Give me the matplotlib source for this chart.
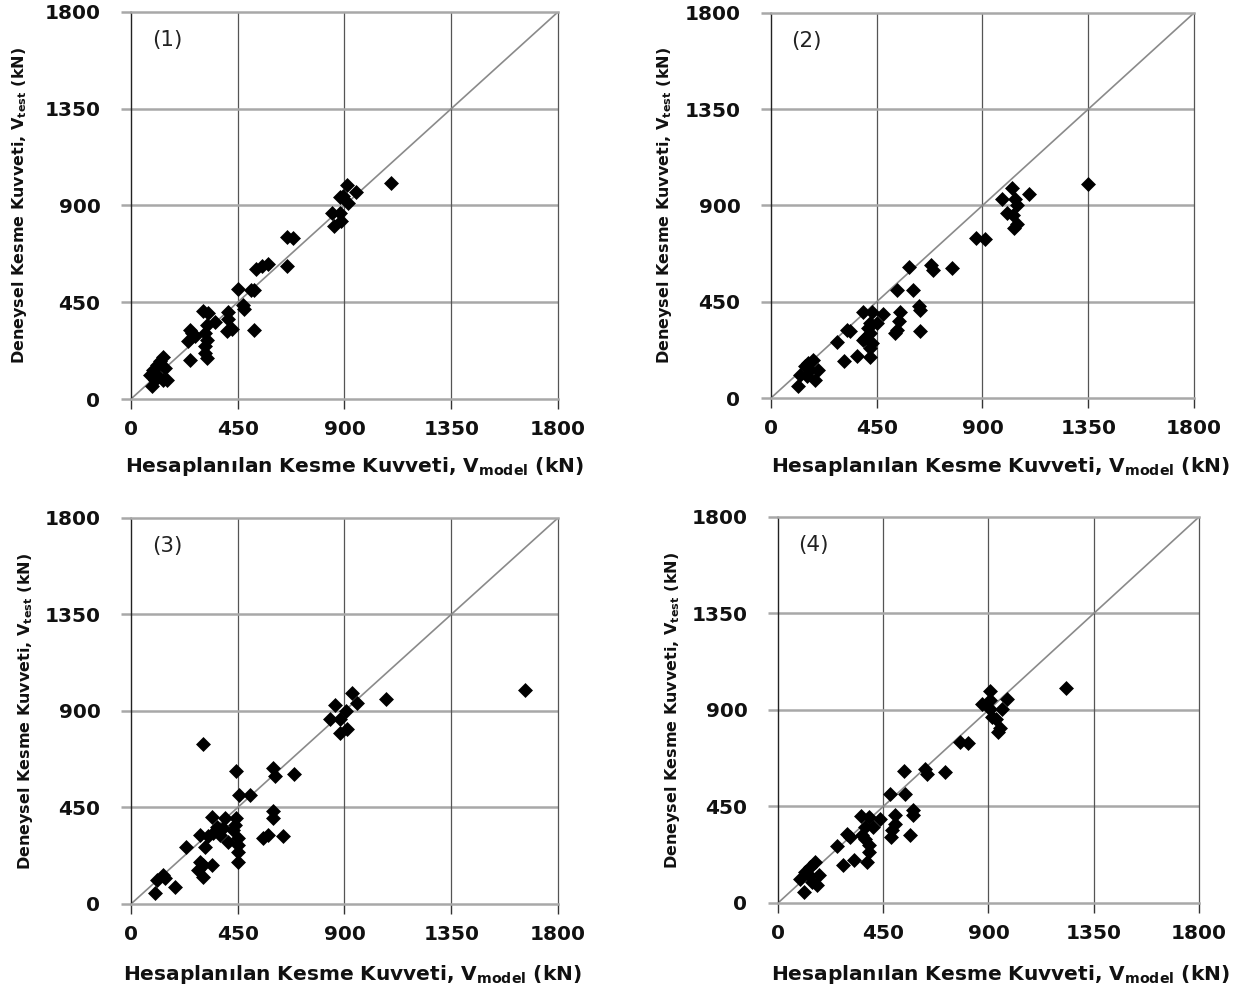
import matplotlib
matplotlib.use("Agg")
import matplotlib.pyplot as plt

# Panel (1)
p1_x = [1095, 911, 948, 880, 895, 915, 849, 880, 855, 887, 656, 684, 656, 527, 551, 579,
        452, 508, 518, 473, 477, 518, 410, 410, 403, 424, 305, 326, 354, 319, 312, 319, 312,
        319, 312, 249, 256, 270, 242, 249, 136, 122, 108, 94, 143, 80, 115, 136, 87, 150, 101]
p1_y = [1005, 994, 961, 939, 945, 911, 865, 865, 803, 826, 753, 750, 617, 605, 617, 628,
        512, 505, 508, 439, 419, 322, 405, 372, 315, 326, 411, 400, 360, 346, 307, 276, 245,
        191, 214, 322, 307, 291, 268, 183, 195, 175, 160, 136, 144, 113, 105, 90, 59, 90, 90]

# Panel (2)
p2_x = [1350, 1024, 1099, 984, 1038, 1045, 1006, 1031, 1045, 1035, 871, 911, 589, 681, 688,
        772, 535, 603, 631, 634, 634, 393, 428, 478, 549, 545, 535, 528, 421, 450, 414, 322,
        336, 400, 421, 428, 421, 421, 393, 279, 311, 365, 180, 159, 145, 123, 201, 166, 187,
        116, 152]
p2_y = [1000, 983, 952, 929, 929, 902, 863, 856, 814, 793, 750, 742, 614, 622, 599,
        610, 506, 506, 428, 412, 314, 401, 401, 394, 404, 358, 319, 303, 350, 350, 327, 319,
        311, 280, 303, 257, 233, 194, 272, 260, 174, 198, 179, 163, 148, 109, 132, 132, 86,
        54, 101]

# Panel (3)
p3_x = [1660, 932, 953, 1077, 859, 908, 841, 880, 880, 911, 302, 441, 600, 607, 688, 456,
        501, 600, 600, 340, 396, 442, 361, 389, 438, 431, 291, 326, 347, 375, 312, 410, 452,
        452, 452, 452, 557, 578, 642, 234, 291, 305, 340, 284, 302, 133, 108, 143, 185, 101]
p3_y = [999, 983, 937, 955, 929, 901, 862, 862, 797, 817, 745, 618, 633, 599, 608, 506,
        506, 434, 403, 404, 400, 400, 361, 356, 369, 345, 322, 319, 330, 322, 268, 288, 306,
        275, 244, 198, 306, 322, 319, 268, 198, 182, 182, 159, 128, 135, 112, 120, 81, 50]

# Panel (4)
p4_x = [1231, 908, 978, 871, 906, 956, 906, 916, 931, 949, 942, 778, 811, 539, 629, 636,
        714, 480, 544, 579, 576, 565, 354, 387, 437, 501, 501, 487, 484, 408, 373, 295, 309,
        373, 387, 387, 380, 359, 252, 280, 327, 159, 138, 117, 95, 174, 131, 166, 110, 145]
p4_y = [1003, 987, 953, 930, 945, 906, 906, 867, 860, 816, 797, 751, 746, 616, 623, 603,
        611, 510, 510, 432, 409, 316, 406, 401, 393, 409, 370, 339, 308, 354, 354, 323, 308,
        300, 269, 238, 191, 316, 266, 179, 202, 191, 168, 145, 113, 129, 129, 82, 51, 98]

panel_labels = ["(1)", "(2)", "(3)", "(4)"]
ticks = [0, 450, 900, 1350, 1800]
xlabel = r"Hesaplanılan Kesme Kuvveti, V$_{\mathregular{model}}$ (kN)"
ylabel = r"Deneysel Kesme Kuvveti, V$_{\mathregular{test}}$ (kN)"

plt.rcParams['font.family'] = ['DejaVu Sans']
plt.rcParams['mathtext.fontset'] = 'dejavusans'

fig = plt.figure(figsize=(12.51, 9.98), dpi=100)

positions = [
    [0.1047, 0.6002, 0.3413, 0.3878],
    [0.6163, 0.6012, 0.3381, 0.3858],
    [0.1047, 0.0942, 0.3413, 0.3868],
    [0.6219, 0.0952, 0.3365, 0.3868],
]
datasets = [(p1_x, p1_y), (p2_x, p2_y), (p3_x, p3_y), (p4_x, p4_y)]
ylabel_px = [20, 665, 26, 672]
xlabel_px = [354, 1000, 352, 1000]
xlabel_py = [467, 467, 975, 975]

hgrid = '#a8a8a8'
vgrid = '#555555'
W, H = 1251, 998

for i, (pos, (xs, ys)) in enumerate(zip(positions, datasets)):
    ax = fig.add_axes(pos)
    ax.set_xlim(0, 1800)
    ax.set_ylim(0, 1800)
    ax.set_xticks(ticks)
    ax.set_yticks(ticks)
    for t in ticks[1:-1]:
        ax.axhline(t, color=hgrid, lw=1.8, zorder=1)
        ax.axvline(t, color=vgrid, lw=0.9, zorder=1)
    ax.plot([0, 1800], [0, 1800], color='#8a8a8a', lw=1.2, zorder=2)
    ax.scatter(xs, ys, marker='D', s=58, color='black', zorder=3, linewidths=0)
    ax.spines['left'].set_color('#222222')
    ax.spines['left'].set_linewidth(1.0)
    ax.spines['right'].set_color(vgrid)
    ax.spines['right'].set_linewidth(0.9)
    ax.spines['top'].set_color(hgrid)
    ax.spines['top'].set_linewidth(1.8)
    ax.spines['bottom'].set_color(hgrid)
    ax.spines['bottom'].set_linewidth(1.8)
    ax.tick_params(axis='y', direction='out', length=7, width=1.8, color=hgrid,
                   labelsize=14.5, pad=15)
    ax.tick_params(axis='x', direction='out', length=7, width=1.0, color='#333333',
                   labelsize=14.5, pad=8)
    for lab in ax.get_xticklabels() + ax.get_yticklabels():
        lab.set_fontweight('bold')
        lab.set_color('#111111')
    ax.text(0.084, 0.928, panel_labels[i], transform=ax.transAxes, fontsize=15.5,
            ha='center', va='center', color='#222222')
    fig.text(xlabel_px[i] / W, 1 - xlabel_py[i] / H, xlabel, fontsize=14.5,
             fontweight='bold', ha='center', va='center', color='#111111')
    cy = pos[1] + pos[3] / 2
    fig.text(ylabel_px[i] / W, cy, ylabel, fontsize=11.5, fontweight='bold',
             rotation=90, ha='center', va='center', color='#111111')

fig.savefig("out.png", dpi=100)
